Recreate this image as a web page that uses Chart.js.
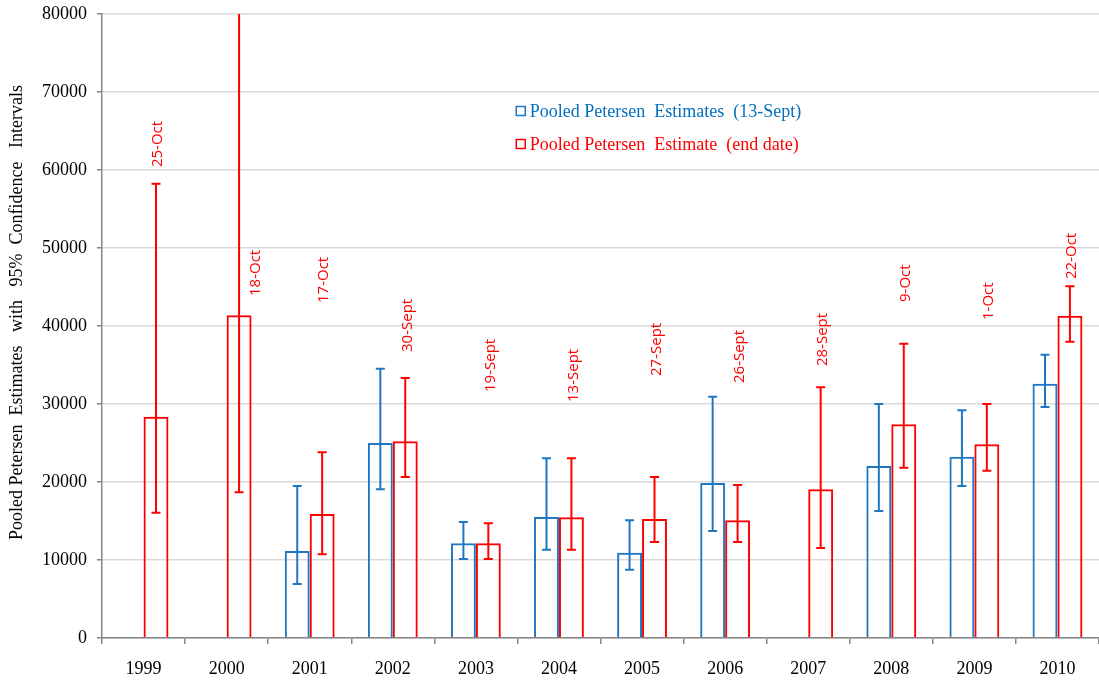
<!DOCTYPE html>
<html>
<head>
<meta charset="utf-8">
<script src="https://cdn.jsdelivr.net/npm/chart.js@4.4.1/dist/chart.umd.min.js"></script>
<style>
  html, body { margin: 0; padding: 0; background: #ffffff; }
  #wrap { width: 1099px; height: 681px; }
</style>
</head>
<body>
<div id="wrap"><canvas id="c" width="1099" height="681"></canvas></div>
<script>
// ---- data ----
const years = ['1999','2000','2001','2002','2003','2004','2005','2006','2007','2008','2009','2010'];

const est13Sept     = [null, null, 11150, 25000, 12140, 15510, 10940, 19870, null, 22050, 23250, 32610];
const est13SeptLow  = [null, null,  6920, 19060, 10130, 11320,  8760, 13720, null, 16280, 19490, 29620];
const est13SeptHigh = [null, null, 19490, 34530, 14870, 23030, 15090, 30940, null, 30000, 29190, 36320];

const estEnd     = [28370, 41370, 15900, 25210, 12140, 15470, 15260, 15090, 19060, 27390, 24830, 41320];
const estEndLow  = [16070, 18680, 10730, 20640, 10130, 11320, 12310, 12310, 11540, 21840, 21450, 37990];
const estEndHigh = [58240, 96000, 23800, 33330, 14700, 23030, 20640, 19620, 32140, 37740, 30000, 45090];

const endDates    = ['25-Oct','18-Oct','17-Oct','30-Sept','19-Sept','13-Sept','27-Sept','26-Sept','28-Sept','9-Oct','1-Oct','22-Oct'];
const endDateAt   = [60380, 43850, 42950, 36670, 31540, 30260, 33590, 32690, 34870, 43080, 40770, 46030];

const yTicks = [0, 10000, 20000, 30000, 40000, 50000, 60000, 70000, 80000];

const BLUE = '#1f77c4';
const BLUE_TXT = '#0070C0';
const RED = '#ff0000';
const SERIF = '"Liberation Serif", "Times New Roman", serif';
const SANS = '"Open Sans", "Noto Sans", sans-serif';

const errorBars = {
  id: 'errorBars',
  afterDatasetsDraw(chart) {
    const ctx = chart.ctx, ys = chart.scales.y, ca = chart.chartArea;
    chart.data.datasets.forEach((ds, d) => {
      const meta = chart.getDatasetMeta(d);
      meta.data.forEach((el, i) => {
        if (ds.data[i] == null) return;
        const lo = ds.errLow[i], hi = ds.errHigh[i];
        const x = el.x;
        let yl = ys.getPixelForValue(lo), yh = ys.getPixelForValue(hi);
        const clipTop = yh < ca.top;
        if (clipTop) yh = ca.top;
        ctx.save();
        ctx.strokeStyle = ds.borderColor;
        ctx.lineWidth = 2;
        ctx.beginPath();
        ctx.moveTo(x, yl); ctx.lineTo(x, yh);
        ctx.moveTo(x - 4.5, yl); ctx.lineTo(x + 4.5, yl);
        if (!clipTop) { ctx.moveTo(x - 4.5, yh); ctx.lineTo(x + 4.5, yh); }
        ctx.stroke();
        ctx.restore();
      });
    });
  }
};

const labelShift = {1: 15};
const dateLabels = {
  id: 'dateLabels',
  afterDraw(chart) {
    const ctx = chart.ctx, ys = chart.scales.y;
    const meta = chart.getDatasetMeta(1);
    ctx.save();
    ctx.fillStyle = RED;
    ctx.font = '15px ' + SANS;
    ctx.textAlign = 'left';
    ctx.textBaseline = 'middle';
    endDates.forEach((t, i) => {
      const el = meta.data[i];
      const x = el.x + 2 + (labelShift[i] || 0);
      const y = ys.getPixelForValue(endDateAt[i]);
      ctx.save();
      ctx.translate(x, y);
      ctx.rotate(-Math.PI / 2);
      ctx.fillText(t, 0, 0);
      ctx.restore();
    });
    ctx.restore();
  }
};

const legendBox = {
  id: 'legendBox',
  afterDraw(chart) {
    const ctx = chart.ctx, ca = chart.chartArea;
    const x0 = ca.left + (ca.right - ca.left) * 0.415;
    const rows = [
      {text: chart.data.datasets[0].label, c: BLUE, tc: BLUE_TXT, y: ca.top + 97},
      {text: chart.data.datasets[1].label, c: RED, tc: RED, y: ca.top + 130}
    ];
    ctx.save();
    rows.forEach(r => {
      ctx.strokeStyle = r.c;
      ctx.lineWidth = 1.5;
      ctx.strokeRect(x0 + 0.5, r.y - 4.5, 9, 9);
      ctx.fillStyle = r.tc;
      ctx.font = '18px ' + SERIF;
      ctx.textAlign = 'left';
      ctx.textBaseline = 'middle';
      ctx.fillText(r.text, x0 + 14, r.y + 1);
    });
    ctx.restore();
  }
};

new Chart(document.getElementById('c'), {
  type: 'bar',
  data: {
    labels: years,
    datasets: [
      {
        label: 'Pooled Petersen  Estimates  (13-Sept)',
        data: est13Sept,
        errLow: est13SeptLow,
        errHigh: est13SeptHigh,
        backgroundColor: 'rgba(255,255,255,0)',
        borderColor: BLUE,
        borderWidth: 2,
        categoryPercentage: 0.6,
        barPercentage: 1.0
      },
      {
        label: 'Pooled Petersen  Estimate  (end date)',
        data: estEnd,
        errLow: estEndLow,
        errHigh: estEndHigh,
        backgroundColor: 'rgba(255,255,255,0)',
        borderColor: RED,
        borderWidth: 2,
        categoryPercentage: 0.6,
        barPercentage: 1.0
      }
    ]
  },
  options: {
    responsive: false,
    animation: false,
    devicePixelRatio: 1,
    layout: { padding: { top: 14, right: 0, left: 0, bottom: 0 } },
    plugins: {
      legend: { display: false },
      tooltip: { enabled: false }
    },
    scales: {
      x: {
        offset: true,
        grid: { display: true, drawOnChartArea: false, offset: true, tickLength: 6, tickColor: '#868686', lineWidth: 1.5 },
        border: { color: '#868686', width: 1.5 },
        ticks: { color: '#000000', font: { family: SERIF, size: 18 }, padding: 14, maxRotation: 0 },
        afterFit(s) { s.height = 43; s.paddingLeft = 0; s.paddingRight = 0; }
      },
      y: {
        min: 0,
        max: 80000,
        afterBuildTicks(s) { s.ticks = yTicks.map(v => ({ value: v })); },
        grid: { color: '#d9d9d9', lineWidth: 1.5, tickLength: 5, tickColor: '#868686' },
        border: { color: '#868686', width: 1.5 },
        ticks: { color: '#000000', font: { family: SERIF, size: 18 }, padding: 10, callback: v => String(v) },
        title: {
          display: true,
          text: '      Pooled Petersen  Estimates   with   95%  Confidence   Intervals',
          color: '#000000',
          font: { family: SERIF, size: 18 },
          padding: { top: 6, bottom: 0 }
        },
        afterFit(s) { s.width = 102; s.paddingTop = 0; s.paddingBottom = 0; }
      }
    }
  },
  plugins: [errorBars, dateLabels, legendBox]
});
</script>
</body>
</html>
